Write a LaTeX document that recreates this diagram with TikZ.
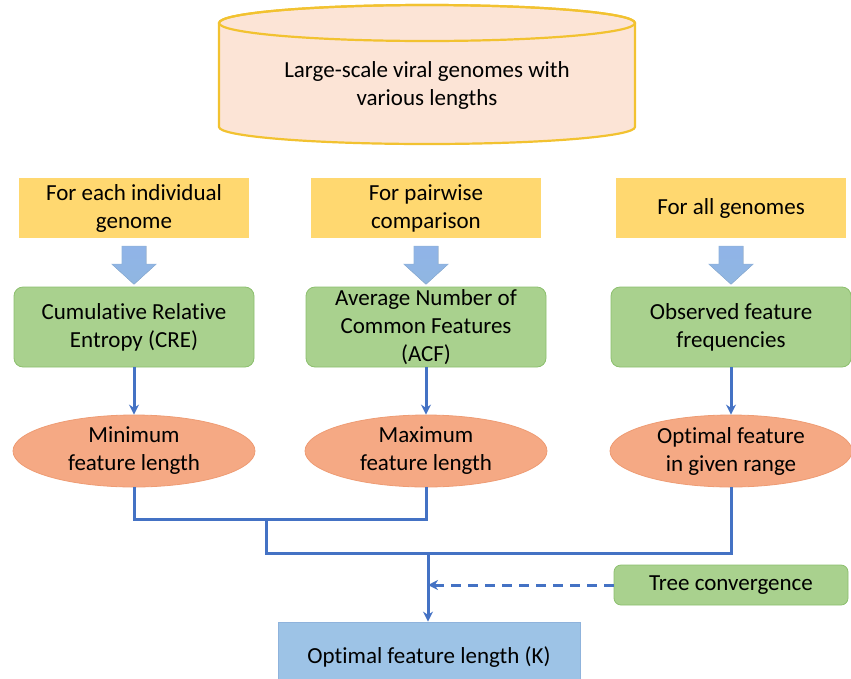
\documentclass[tikz,border=0pt]{standalone}
\usepackage{fontspec}
\setmainfont{Carlito}[Ligatures={NoCommon,NoRequired,NoContextual}]
\usetikzlibrary{shapes.geometric,arrows.meta}
\definecolor{dbfill}{HTML}{FCE4D6}
\definecolor{dbline}{HTML}{F2C230}
\definecolor{srcfill}{HTML}{FFD870}
\definecolor{procfill}{HTML}{A9D18E}
\definecolor{procline}{HTML}{8CBF6E}
\definecolor{ovalfill}{HTML}{F5A984}
\definecolor{ovalline}{HTML}{EE9C74}
\definecolor{resfill}{HTML}{9DC3E6}
\definecolor{resline}{HTML}{8FB3DC}
\definecolor{linkblue}{HTML}{4472C4}
\newcommand{\noti}{t\kern0pt i}
\begin{document}
\begin{tikzpicture}[x=1pt,y=-1pt,>={Stealth[length=10pt,width=10pt]},
  every node/.style={font=\fontsize{23}{28}\selectfont,align=center,inner sep=0pt},
  srcbox/.style={fill=srcfill,minimum width=230pt,minimum height=60pt},
  procbox/.style={fill=procfill,draw=procline,line width=0.8pt,rounded corners=9pt,
                  minimum width=240pt,minimum height=80pt},
  valoval/.style={ellipse,fill=ovalfill,draw=ovalline,line width=0.8pt,
                  minimum width=242pt,minimum height=72pt},
  resbox/.style={fill=resfill,draw=resline,line width=0.8pt,minimum width=302pt,minimum height=70pt},
  link/.style={draw=linkblue,line width=3pt},
  fatarrow/.style={top color=blue!8!resfill,bottom color=resfill!85!linkblue,draw=resline,line width=0.6pt}]
  \useasboundingbox (0,0) rectangle (851,678);
  % database on top
  \filldraw[fill=dbfill,draw=dbline,line width=2.2pt]
       (219,23) -- (219,127) arc[start angle=180,end angle=0,x radius=208,y radius=17]
       -- (635,23) arc[start angle=0,end angle=-180,x radius=208,y radius=18] -- cycle;
  \draw[dbline,line width=2.2pt] (427,23) ellipse[x radius=208,y radius=18];
  \node (db) at (427,85) {Large-scale viral genomes with\\various lengths};
  % three inputs
  \node[srcbox] (src1) at (134,208) {For each individual\\genome};
  \node[srcbox] (src2) at (426,208) {For pairwise\\comparison};
  \node[srcbox] (src3) at (731,208) {For all genomes};
  \foreach \s in {src1,src2,src3}
    \filldraw[fatarrow] ([yshift=-8pt]\s.south) ++(-12,0) -- ++(0,18) -- ++(-10,0)
         -- ++(22,20) -- ++(22,-20) -- ++(-10,0) -- ++(0,-18) -- cycle;
  \node[procbox] (cre) at (134,327) {Cumula\noti ve Rela\noti ve\\Entropy (CRE)};
  \node[procbox] (acf) at (426,327) {Average Number of\\Common Features\\(ACF)};
  \node[procbox] (obs) at (731,327) {Observed feature\\frequencies};
  \node[valoval] (kmin) at (134,451) {Minimum\\feature length};
  \node[valoval] (kmax) at (426,451) {Maximum\\feature length};
  \node[valoval] (kopt) at (731,451) {Op\noti mal feature\\in given range};
  \foreach \a/\b in {cre/kmin,acf/kmax,obs/kopt}
    \draw[link,->] (\a) -- (\b);
  % merging
  \coordinate (j1) at (266,519);
  \coordinate (j2) at (428,553);
  \draw[link] (kmin.south) |- (j1) -- (j1 -| kmax.south) -- (kmax.south);
  \draw[link] (j1) -- (j1 |- j2) -- (j2 -| kopt.south) -- (kopt.south);
  \node[procbox,rounded corners=7pt,minimum width=234pt,minimum height=40pt] (tree) at (731,585) {Tree convergence};
  \node[resbox] (kres) at (429,657) {Op\noti mal feature length (K)};
  \draw[link,->] (j2) -- (kres.north -| j2);
  \draw[link,->,dash pattern=on 10pt off 7pt] (tree.west) -- (tree.west -| j2);
\end{tikzpicture}
\end{document}
